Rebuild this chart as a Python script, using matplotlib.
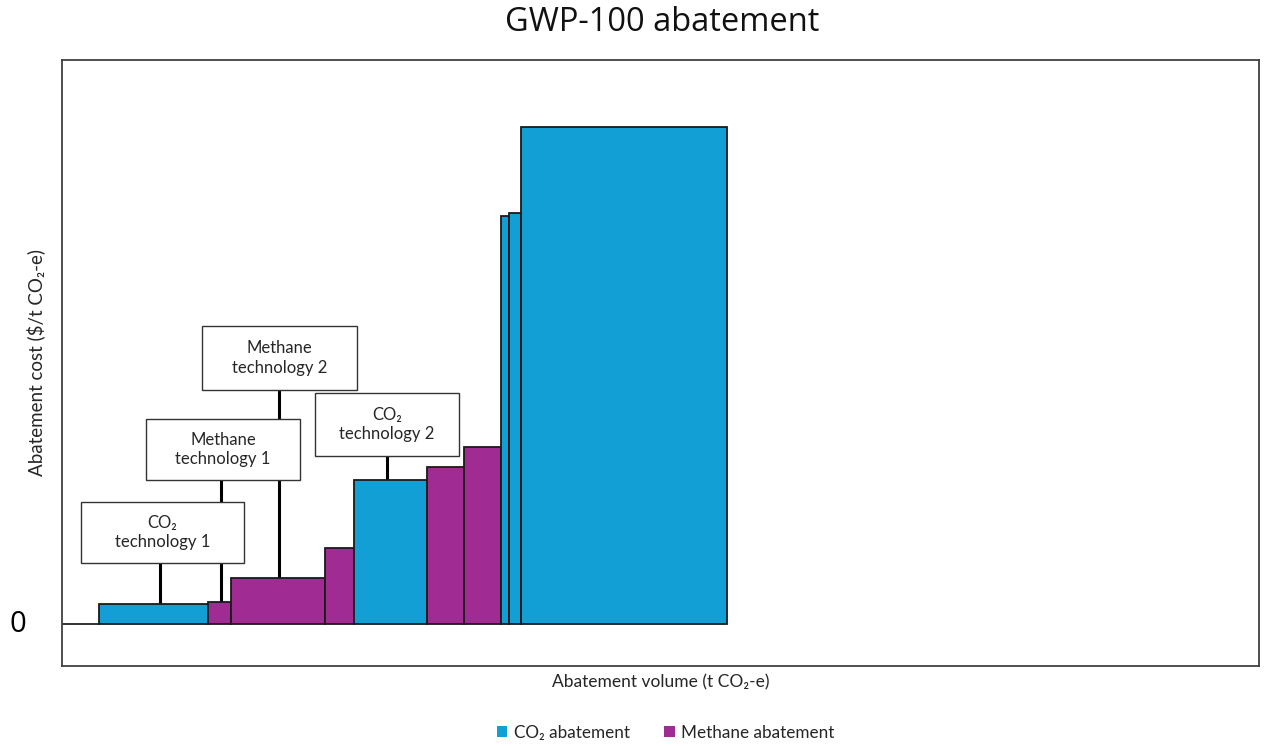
import matplotlib
matplotlib.use("Agg")
import matplotlib.pyplot as plt
from matplotlib.patches import Rectangle, Patch

# Marginal abatement cost curve (arbitrary volume / cost units)
start_volume = 3.7
widths = [10.9, 2.3, 9.4, 2.9, 7.3, 3.7, 3.7, 0.8, 1.2, 20.6]
costs = [2.0, 2.2, 4.6, 7.6, 14.4, 15.7, 17.7, 40.8, 41.1, 49.7]
gases = ["CO2", "CH4", "CH4", "CH4", "CO2", "CH4", "CH4", "CO2", "CO2", "CO2"]

# Callout labels: (text, bar index, box centre x, box centre y, box width, box height)
callouts = [
    ("CO\u2082\ntechnology 1", 0, 10.05, 9.15, 16.3, 6.1),
    ("Methane\ntechnology 1", 1, 16.1, 17.45, 15.4, 6.1),
    ("Methane\ntechnology 2", 2, 21.75, 26.6, 15.5, 6.4),
    ("CO\u2082\ntechnology 2", 4, 32.5, 19.95, 14.4, 6.3),
]
callout_x = [9.8, 15.9, 21.7, 32.5]

colors = {"CO2": "#119FD6", "CH4": "#A02B93"}
labels = {"CO2": "CO\u2082 abatement", "CH4": "Methane abatement"}

fam = ["Lato", "DejaVu Sans"]
plt.rcParams["font.family"] = fam

fig = plt.figure(figsize=(12.71, 7.46), dpi=100)
ax = fig.add_axes([62 / 1271, 80 / 746, 1197 / 1271, 606 / 746])
ax.set_xlim(0, 119.7)
ax.set_ylim(-4.2, 56.4)

x = start_volume
for w, c, g in zip(widths, costs, gases):
    ax.add_patch(Rectangle((x, 0), w, c, facecolor=colors[g], edgecolor="#1a1a1a",
                           linewidth=1.3, zorder=3))
    x += w

# baseline segment before the first measure
ax.plot([0, start_volume], [0, 0], color="#222222", linewidth=1.3, zorder=2)

for (text, idx, cx, cy, bw, bh), lx in zip(callouts, callout_x):
    ax.plot([lx, lx], [cy - bh / 2, costs[idx]], color="black", linewidth=2.2, zorder=2)
    ax.add_patch(Rectangle((cx - bw / 2, cy - bh / 2), bw, bh, facecolor="white",
                           edgecolor="#333333", linewidth=1.0, zorder=4))
    ax.text(cx, cy, text, ha="center", va="center", fontsize=12, color="#262626",
            linespacing=1.25, zorder=5, family=fam)

ax.set_xticks([])
ax.set_yticks([])
for s in ax.spines.values():
    s.set_color("#404040")
    s.set_linewidth(1.3)

ax.text(-0.037, 0, "0", transform=ax.get_yaxis_transform(), ha="center", va="center",
        fontsize=21, color="black", family=["Open Sans", "DejaVu Sans"])
ax.set_ylabel("Abatement cost ($/t CO\u2082-e)", fontsize=13.5, color="#262626", labelpad=12)
ax.set_xlabel("Abatement volume (t CO\u2082-e)", fontsize=12.5, color="#262626", labelpad=6)
fig.text(0.521, 0.970, "GWP-100 abatement", fontsize=23.5, ha="center", va="center",
         family=["Open Sans", "DejaVu Sans"], color="#111111")

handles = [Patch(facecolor=colors[g], edgecolor="none", label=labels[g]) for g in ["CO2", "CH4"]]
fig.legend(handles=handles, loc="center", bbox_to_anchor=(0.524, 0.018), ncol=2, frameon=False,
           fontsize=12.3, handlelength=0.6, handleheight=0.6, handletextpad=0.4,
           columnspacing=2.0, labelcolor="#262626")

fig.savefig("out.png", dpi=100)
